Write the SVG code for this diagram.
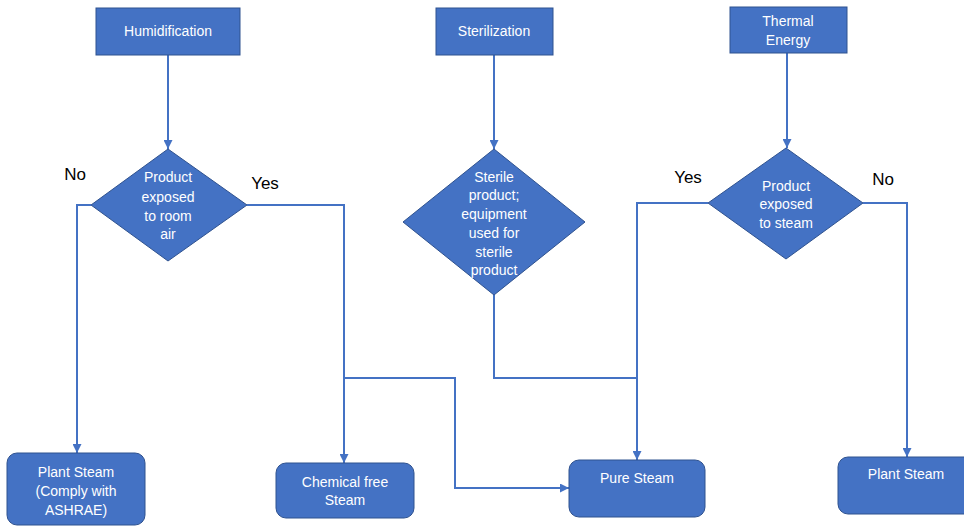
<svg xmlns="http://www.w3.org/2000/svg" width="964" height="527" viewBox="0 0 964 527">
<style>
.shape{fill:#4472C4;stroke:#2F528F;stroke-width:1}
.t{font-family:"Liberation Sans",Arial,sans-serif;font-size:14px;fill:#FFFFFF;text-anchor:middle}
.lbl{font-family:"Liberation Sans",Arial,sans-serif;font-size:17px;fill:#000000;text-anchor:middle}
.c{fill:none;stroke:#4472C4;stroke-width:2}
</style>
<defs>
<marker id="ah" markerUnits="userSpaceOnUse" markerWidth="9" markerHeight="9" viewBox="0 0 10 10" refX="10" refY="5" orient="auto">
<path d="M0,0 L10,5 L0,10 z" fill="#4472C4"/>
</marker>
</defs>
<rect width="964" height="527" fill="#FFFFFF"/>
<g id="connectors">
<path class="c" d="M168,55 V149" marker-end="url(#ah)"/>
<path class="c" d="M494,55 V149" marker-end="url(#ah)"/>
<path class="c" d="M787,53 V148" marker-end="url(#ah)"/>
<path class="c" d="M91,205 H77 V453" marker-end="url(#ah)"/>
<path class="c" d="M247,205 H344 V463" marker-end="url(#ah)"/>
<path class="c" d="M344,378 H455 V488 H569" marker-end="url(#ah)"/>
<path class="c" d="M494,295 V378 H637"/>
<path class="c" d="M708,203 H637 V460" marker-end="url(#ah)"/>
<path class="c" d="M863,203 H907 V457" marker-end="url(#ah)"/>
</g>
<g id="humidification">
<rect class="shape" x="96" y="8" width="144" height="47"/>
<text class="t" x="168" y="36">Humidification</text>
</g>
<g id="sterilization">
<rect class="shape" x="436" y="8" width="117" height="47"/>
<text class="t" x="494" y="36">Sterilization</text>
</g>
<g id="thermal">
<rect class="shape" x="730" y="7" width="117" height="46"/>
<text class="t" x="788" y="26">Thermal</text>
<text class="t" x="788" y="45">Energy</text>
</g>
<g id="decision1">
<polygon class="shape" points="168,149 247,205 168,261 91,205"/>
<text class="t" x="168" y="182">Product</text>
<text class="t" x="168" y="202">exposed</text>
<text class="t" x="168" y="221">to room</text>
<text class="t" x="168" y="239">air</text>
</g>
<g id="decision2">
<polygon class="shape" points="494,149 585,222 494,295 403,222"/>
<text class="t" x="494" y="182">Sterile</text>
<text class="t" x="494" y="200">product;</text>
<text class="t" x="494" y="219">equipment</text>
<text class="t" x="494" y="238">used for</text>
<text class="t" x="494" y="257">sterile</text>
<text class="t" x="494" y="275">product</text>
</g>
<g id="decision3">
<polygon class="shape" points="786,148 863,203 786,259 708,203"/>
<text class="t" x="786" y="191">Product</text>
<text class="t" x="786" y="209">exposed</text>
<text class="t" x="786" y="228">to steam</text>
</g>
<g id="labels">
<text class="lbl" x="75" y="180">No</text>
<text class="lbl" x="265" y="189">Yes</text>
<text class="lbl" x="688" y="183">Yes</text>
<text class="lbl" x="883" y="185">No</text>
</g>
<g id="plant-steam-ashrae">
<rect class="shape" x="7" y="453" width="138" height="72" rx="10"/>
<text class="t" x="76" y="477">Plant Steam</text>
<text class="t" x="76" y="496">(Comply with</text>
<text class="t" x="76" y="515">ASHRAE)</text>
</g>
<g id="chemical-free">
<rect class="shape" x="276" y="463" width="138" height="55" rx="10"/>
<text class="t" x="345" y="487">Chemical free</text>
<text class="t" x="345" y="505">Steam</text>
</g>
<g id="pure-steam">
<rect class="shape" x="569" y="460" width="136" height="57" rx="10"/>
<text class="t" x="637" y="483">Pure Steam</text>
</g>
<g id="plant-steam">
<rect class="shape" x="838" y="457" width="140" height="57" rx="10"/>
<text class="t" x="906" y="479">Plant Steam</text>
</g>
</svg>
